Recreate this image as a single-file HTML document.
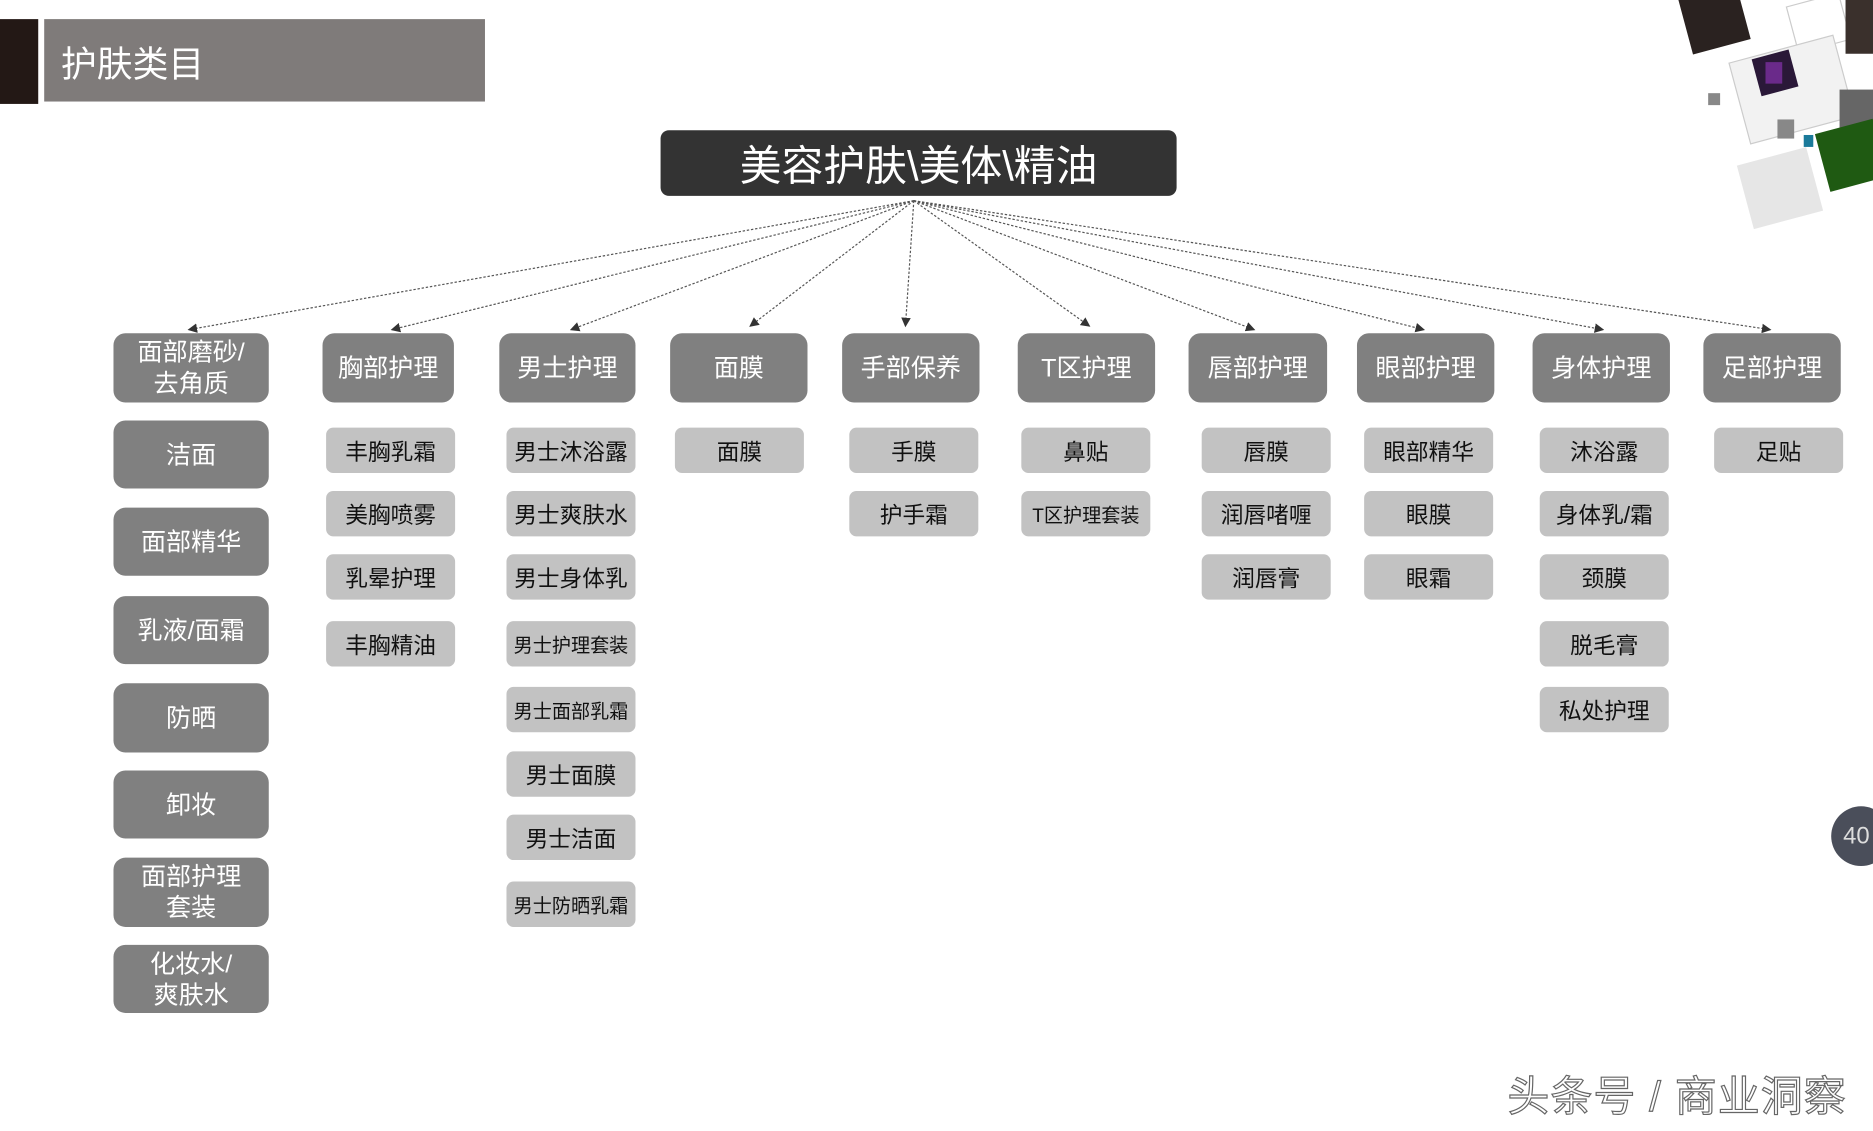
<!DOCTYPE html>
<html><head><meta charset="utf-8"><style>
html,body{margin:0;padding:0;background:#fff;overflow:hidden;width:1873px;height:1131px}
#w{position:absolute;left:0;top:0;width:1568px;height:947px;transform:scale(1.19452);transform-origin:0 0;font-family:"Liberation Sans","Noto Sans CJK SC",sans-serif}
.b{position:absolute;display:flex;align-items:center;justify-content:center;text-align:center;box-sizing:border-box}
.c{background:#808080;color:#fff;border-radius:10px;font-size:21px;line-height:26px;padding-top:2px}
.l{background:#c2c2c2;color:#111;border-radius:6px;font-size:19px;height:38px}
.sq{position:absolute}
</style></head><body><div id="w">
<div class="sq" style="left:0;top:16px;width:32px;height:71px;background:#231815"></div>
<div class="b" style="left:37px;top:16px;width:369px;height:69px;background:#7f7b7a;color:#fff;font-size:30px;justify-content:flex-start;padding-left:14px">护肤类目</div>
<div class="b" style="left:553px;top:109px;width:432px;height:55px;background:#333;color:#fff;border-radius:7px;font-size:35px">美容护肤\美体\精油</div>

<svg style="position:absolute;left:0;top:0" width="1568" height="947">
<defs><marker id="a" markerWidth="8" markerHeight="8" refX="7" refY="4" orient="auto" markerUnits="userSpaceOnUse"><path d="M0,0L8,4L0,8z" fill="#333"/></marker></defs>
<g stroke="#555" stroke-width="1" stroke-dasharray="2,1.5" fill="none" marker-end="url(#a)">
<line x1="765" y1="168" x2="158" y2="276"/>
<line x1="765" y1="168" x2="328" y2="276"/>
<line x1="765" y1="168" x2="478" y2="276"/>
<line x1="765" y1="168" x2="628" y2="273"/>
<line x1="765" y1="168" x2="758" y2="273"/>
<line x1="765" y1="168" x2="912" y2="273"/>
<line x1="765" y1="168" x2="1050" y2="276"/>
<line x1="765" y1="168" x2="1192" y2="276"/>
<line x1="765" y1="168" x2="1342" y2="276"/>
<line x1="765" y1="168" x2="1482" y2="276"/>
</g>
<g>
<rect x="1410" y="-10" width="50" height="50" fill="#2a2220" transform="rotate(-15 1435 15)"/>
<rect x="1500" y="0" width="45" height="40" fill="#fff" stroke="#ccc" transform="rotate(-15 1520 20)"/>
<rect x="1545" y="0" width="30" height="45" fill="#3a302c"/>
<rect x="1455" y="40" width="90" height="70" fill="#f2f2f2" stroke="#ccc" transform="rotate(-15 1500 75)"/>
<rect x="1470" y="45" width="32" height="32" fill="#2a1838" transform="rotate(-15 1486 61)"/>
<rect x="1478" y="52" width="14" height="18" fill="#6a2a8a"/>
<rect x="1540" y="75" width="30" height="40" fill="#666"/>
<rect x="1460" y="130" width="60" height="55" fill="#e6e6e6" transform="rotate(-15 1490 157)"/>
<rect x="1525" y="105" width="50" height="50" fill="#1f5a12" transform="rotate(-15 1550 130)"/>
<rect x="1430" y="78" width="10" height="10" fill="#888"/>
<rect x="1510" y="113" width="8" height="10" fill="#1a7a9a"/>
<rect x="1488" y="100" width="14" height="16" fill="#888"/>
</g>
</svg>

<div class="b c" style="left:95px;top:279px;width:130px;height:58px">面部磨砂/<br>去角质</div>
<div class="b c" style="left:270px;top:279px;width:110px;height:58px">胸部护理</div>
<div class="b c" style="left:418px;top:279px;width:114px;height:58px">男士护理</div>
<div class="b c" style="left:561px;top:279px;width:115px;height:58px">面膜</div>
<div class="b c" style="left:705px;top:279px;width:115px;height:58px">手部保养</div>
<div class="b c" style="left:852px;top:279px;width:115px;height:58px">T区护理</div>
<div class="b c" style="left:995px;top:279px;width:116px;height:58px">唇部护理</div>
<div class="b c" style="left:1136px;top:279px;width:115px;height:58px">眼部护理</div>
<div class="b c" style="left:1283px;top:279px;width:115px;height:58px">身体护理</div>
<div class="b c" style="left:1426px;top:279px;width:115px;height:58px">足部护理</div>

<div class="b c" style="left:95px;top:352px;width:130px;height:57px">洁面</div>
<div class="b c" style="left:95px;top:425px;width:130px;height:57px">面部精华</div>
<div class="b c" style="left:95px;top:499px;width:130px;height:57px">乳液/面霜</div>
<div class="b c" style="left:95px;top:572px;width:130px;height:58px">防晒</div>
<div class="b c" style="left:95px;top:645px;width:130px;height:57px">卸妆</div>
<div class="b c" style="left:95px;top:718px;width:130px;height:58px">面部护理<br>套装</div>
<div class="b c" style="left:95px;top:791px;width:130px;height:57px">化妆水/<br>爽肤水</div>

<div class="b l" style="left:273px;top:358px;width:108px">丰胸乳霜</div>
<div class="b l" style="left:273px;top:411px;width:108px">美胸喷雾</div>
<div class="b l" style="left:273px;top:464px;width:108px">乳晕护理</div>
<div class="b l" style="left:273px;top:520px;width:108px">丰胸精油</div>

<div class="b l" style="left:424px;top:358px;width:108px">男士沐浴露</div>
<div class="b l" style="left:424px;top:411px;width:108px">男士爽肤水</div>
<div class="b l" style="left:424px;top:464px;width:108px">男士身体乳</div>
<div class="b l" style="left:424px;top:520px;width:108px;font-size:16px">男士护理套装</div>
<div class="b l" style="left:424px;top:575px;width:108px;font-size:16px">男士面部乳霜</div>
<div class="b l" style="left:424px;top:629px;width:108px">男士面膜</div>
<div class="b l" style="left:424px;top:682px;width:108px">男士洁面</div>
<div class="b l" style="left:424px;top:738px;width:108px;font-size:16px">男士防晒乳霜</div>

<div class="b l" style="left:565px;top:358px;width:108px">面膜</div>
<div class="b l" style="left:711px;top:358px;width:108px">手膜</div>
<div class="b l" style="left:711px;top:411px;width:108px">护手霜</div>
<div class="b l" style="left:855px;top:358px;width:108px">鼻贴</div>
<div class="b l" style="left:855px;top:411px;width:108px;font-size:16px">T区护理套装</div>
<div class="b l" style="left:1006px;top:358px;width:108px">唇膜</div>
<div class="b l" style="left:1006px;top:411px;width:108px">润唇啫喱</div>
<div class="b l" style="left:1006px;top:464px;width:108px">润唇膏</div>
<div class="b l" style="left:1142px;top:358px;width:108px">眼部精华</div>
<div class="b l" style="left:1142px;top:411px;width:108px">眼膜</div>
<div class="b l" style="left:1142px;top:464px;width:108px">眼霜</div>
<div class="b l" style="left:1289px;top:358px;width:108px">沐浴露</div>
<div class="b l" style="left:1289px;top:411px;width:108px">身体乳/霜</div>
<div class="b l" style="left:1289px;top:464px;width:108px">颈膜</div>
<div class="b l" style="left:1289px;top:520px;width:108px">脱毛膏</div>
<div class="b l" style="left:1289px;top:575px;width:108px">私处护理</div>
<div class="b l" style="left:1435px;top:358px;width:108px">足贴</div>

<div class="b" style="left:1533px;top:675px;width:50px;height:50px;border-radius:50%;background:#4a4e5a;color:#ddd;font-size:20px;justify-content:flex-start;padding-left:10px">40</div>
<div style="position:absolute;left:1262px;top:890px;font-size:35px;letter-spacing:1px;color:#fff;-webkit-text-stroke:1px #666;font-family:'Liberation Sans','Noto Sans CJK SC',sans-serif">头条号 / 商业洞察</div>
</div></body></html>
